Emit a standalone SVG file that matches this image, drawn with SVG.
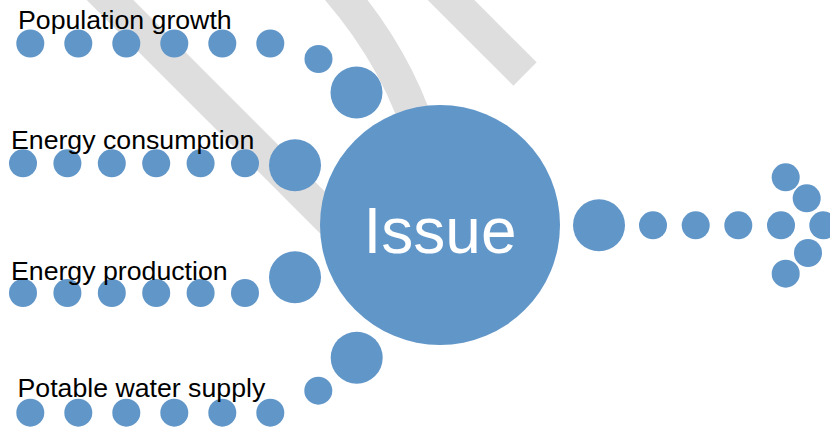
<svg xmlns="http://www.w3.org/2000/svg" width="830" height="427" viewBox="0 0 830 427">
  <style>
    .band { fill: none; stroke: #dedede; stroke-width: 33; stroke-linecap: butt; }
    .dot { fill: #6196c9; }
    .label { font-family: "Liberation Sans", Arial, sans-serif; font-size: 26.7px; fill: #000000; }
    .issue { font-family: "Liberation Sans", Arial, sans-serif; font-size: 64px; fill: #ffffff; text-anchor: middle; }
  </style>
  <rect width="830" height="427" fill="#ffffff"/>
  <g id="background-bands">
    <line class="band" x1="50" y1="-60" x2="360" y2="250"/>
    <path class="band" d="M 300 -50 Q 395 40 425 150"/>
    <line class="band" x1="400" y1="-51" x2="525" y2="74"/>
  </g>
  <g id="connectors">
    <g id="flow-population">
      <circle class="dot" cx="30.3" cy="43.5" r="14"/>
      <circle class="dot" cx="78.3" cy="43.5" r="14"/>
      <circle class="dot" cx="126.3" cy="43.5" r="14"/>
      <circle class="dot" cx="174.3" cy="43.5" r="14"/>
      <circle class="dot" cx="222.3" cy="43.5" r="14"/>
      <circle class="dot" cx="270.3" cy="43.5" r="14"/>
      <circle class="dot" cx="318.5" cy="59" r="14"/>
      <circle class="dot" cx="356.5" cy="92.5" r="26"/>
    </g>
    <g id="flow-consumption">
      <circle class="dot" cx="23" cy="163.3" r="14"/>
      <circle class="dot" cx="67.4" cy="163.3" r="14"/>
      <circle class="dot" cx="111.8" cy="163.3" r="14"/>
      <circle class="dot" cx="156.2" cy="163.3" r="14"/>
      <circle class="dot" cx="200.6" cy="163.3" r="14"/>
      <circle class="dot" cx="245" cy="163.3" r="14"/>
      <circle class="dot" cx="295" cy="165.3" r="26"/>
    </g>
    <g id="flow-production">
      <circle class="dot" cx="23" cy="293" r="14"/>
      <circle class="dot" cx="67.4" cy="293" r="14"/>
      <circle class="dot" cx="111.8" cy="293" r="14"/>
      <circle class="dot" cx="156.2" cy="293" r="14"/>
      <circle class="dot" cx="200.6" cy="293" r="14"/>
      <circle class="dot" cx="245" cy="293" r="14"/>
      <circle class="dot" cx="295" cy="277.3" r="26"/>
    </g>
    <g id="flow-water">
      <circle class="dot" cx="30.3" cy="412.7" r="14"/>
      <circle class="dot" cx="78.3" cy="412.7" r="14"/>
      <circle class="dot" cx="126.3" cy="412.7" r="14"/>
      <circle class="dot" cx="174.3" cy="412.7" r="14"/>
      <circle class="dot" cx="222.3" cy="412.7" r="14"/>
      <circle class="dot" cx="270.3" cy="412.7" r="14"/>
      <circle class="dot" cx="318.3" cy="390.7" r="14"/>
      <circle class="dot" cx="356.7" cy="357.7" r="26"/>
    </g>
    <g id="flow-output-arrow">
      <circle class="dot" cx="599" cy="225.3" r="26"/>
      <circle class="dot" cx="653" cy="225.3" r="14"/>
      <circle class="dot" cx="695.7" cy="225.3" r="14"/>
      <circle class="dot" cx="738.3" cy="225.3" r="14"/>
      <circle class="dot" cx="781" cy="225.3" r="14"/>
      <circle class="dot" cx="823.3" cy="225.3" r="14"/>
      <circle class="dot" cx="785.7" cy="177.3" r="14"/>
      <circle class="dot" cx="806.7" cy="198.3" r="14"/>
      <circle class="dot" cx="808" cy="253" r="14"/>
      <circle class="dot" cx="785.7" cy="273.7" r="14"/>
    </g>
  </g>
  <g id="node-issue">
    <circle class="dot" cx="440" cy="225" r="120"/>
    <text class="issue" x="440" y="253">Issue</text>
  </g>
  <g id="label-population">
    <text class="label" x="18" y="29">Population growth</text>
  </g>
  <g id="label-consumption">
    <text class="label" x="11" y="149">Energy consumption</text>
  </g>
  <g id="label-production">
    <text class="label" x="11" y="279.5">Energy production</text>
  </g>
  <g id="label-water">
    <text class="label" x="17.5" y="397">Potable water supply</text>
  </g>
</svg>
